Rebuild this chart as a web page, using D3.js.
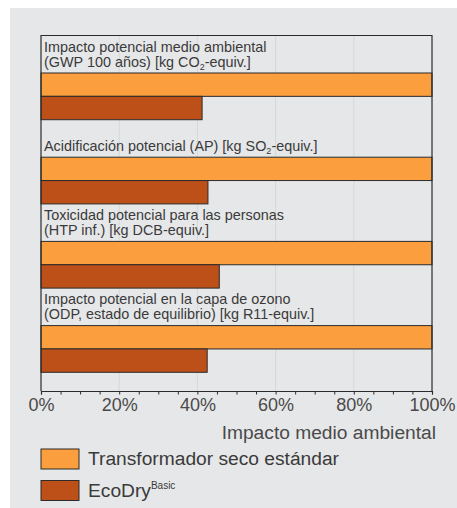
<!DOCTYPE html>
<html><head><meta charset="utf-8">
<script src="https://cdn.jsdelivr.net/npm/d3@7"></script>
<style>
html,body{margin:0;padding:0;background:#fff;}
svg{display:block;}
text{font-family:"Liberation Sans",Arial,Helvetica,sans-serif;}
</style></head>
<body>
<svg id="chart" width="457" height="508"></svg>
<script>
const categories = ["GWP","AP","HTP","ODP"];
// label lines: arrays of segments [text, type] where type "" normal, "sub" subscript
const categoryLabels = [
  [[["Impacto potencial medio ambiental",""]],[["(GWP 100 años) [kg CO",""],["2","sub"],["-equiv.]",""]]],
  [[["Acidificación potencial (AP) [kg SO",""],["2","sub"],["-equiv.]",""]]],
  [[["Toxicidad potencial para las personas",""]],[["(HTP inf.) [kg DCB-equiv.]",""]]],
  [[["Impacto potencial en la capa de ozono",""]],[["(ODP, estado de equilibrio) [kg R11-equiv.]",""]]]
];
const seriesNames = ["Transformador seco estándar","EcoDry"];
const standardValues = [100,100,100,100];
const ecoDryValues = [41.2,42.7,45.6,42.5];
const tickValues = [0,20,40,60,80,100];
const minorTickValues = d3.range(0,101,5);
const xTitle = "Impacto medio ambiental";
const colors = ["#fa9e3e","#bd4f18"];

const svg = d3.select("#chart");
svg.append("rect").attr("x",10).attr("y",8).attr("width",447).attr("height",500).attr("fill","#e6e7e8");

const pLeft=41, pRight=432, pTop=35.5, axisY=391;
const x = d3.scaleLinear().domain([0,100]).range([pLeft,pRight]);
const yGroup = d3.scaleBand().domain(categories).range([pTop,372.3]).paddingInner(0);
const step = yGroup.bandwidth();
const barBlockTop = 37.5;
const ySeries = d3.scaleBand().domain([0,1]).range([barBlockTop, step]).padding(0);

// gridlines
svg.append("g").selectAll("line").data(tickValues.slice(1,-1)).join("line")
  .attr("x1",d=>x(d)).attr("x2",d=>x(d)).attr("y1",pTop).attr("y2",axisY)
  .attr("stroke","#d6d7d9").attr("stroke-width",1);

// bars
const data = categories.map((c,i)=>({c, vals:[standardValues[i], ecoDryValues[i]]}));
const g = svg.append("g").selectAll("g").data(data).join("g")
  .attr("transform",d=>`translate(0,${yGroup(d.c)})`);
g.selectAll("rect").data(d=>d.vals.map((v,j)=>({v,j}))).join("rect")
  .attr("x",x(0)).attr("y",d=>ySeries(d.j)).attr("width",d=>x(d.v)-x(0)).attr("height",ySeries.bandwidth())
  .attr("fill",d=>colors[d.j]).attr("stroke","#2b2b2b").attr("stroke-width",1);

// category labels
g.each(function(d,i){
  const lines = categoryLabels[i];
  const baselines = lines.length===2 ? [16.2,31.4] : [31.0];
  const sel = d3.select(this);
  lines.forEach((segs,k)=>{
    const t = sel.append("text").attr("x",44).attr("y",baselines[k])
      .attr("font-size",14.4).attr("fill","#3a3a3a");
    segs.forEach(([s,type],m)=>{
      const ts = t.append("tspan").text(s);
      if(type==="sub"){ ts.attr("font-size",9).attr("dy",3); }
      else if(m>0){ ts.attr("dy",-3); }
    });
  });
});

// frame
svg.append("path").attr("d",`M${pLeft},${axisY}V${pTop}H${pRight}V${axisY}`)
  .attr("fill","none").attr("stroke","#2b2b2b").attr("stroke-width",1.2);

// x axis
const axis = svg.append("g").attr("transform",`translate(0,${axisY})`)
  .call(d3.axisBottom(x).tickValues(minorTickValues).tickSize(3.5).tickFormat(""));
axis.select(".domain").attr("stroke","#2b2b2b").attr("stroke-width",1.2);
axis.selectAll(".tick line").attr("stroke","#2b2b2b");
const labelsAxis = svg.append("g").attr("transform",`translate(0,${axisY})`)
  .call(d3.axisBottom(x).tickValues(tickValues).tickSize(0).tickPadding(0).tickFormat(d=>d+"%"));
labelsAxis.select(".domain").remove();
labelsAxis.selectAll("text").attr("dy",null).attr("y",19.7)
  .attr("font-size",18).attr("fill","#4a4a4a").attr("font-family","Liberation Sans, Arial, sans-serif");

svg.append("text").attr("x",436).attr("y",438.5).attr("text-anchor","end")
  .attr("font-size",19.2).attr("fill","#4a4a4a").text(xTitle);

// legend
const lg = svg.append("g").selectAll("g").data(seriesNames).join("g")
  .attr("transform",(d,i)=>`translate(41,${449+i*31.5})`);
lg.append("rect").attr("width",38).attr("height",20).attr("fill",(d,i)=>colors[i])
  .attr("stroke","#2b2b2b").attr("stroke-width",1);
lg.append("text").attr("x",47).attr("y",16).attr("font-size",19.2).attr("fill","#3a3a3a")
  .each(function(d,i){
    const t=d3.select(this);
    t.append("tspan").text(d);
    if(i===1){ t.append("tspan").text("Basic").attr("font-size",10).attr("dy",-7.5); }
  });
</script>
</body></html>
